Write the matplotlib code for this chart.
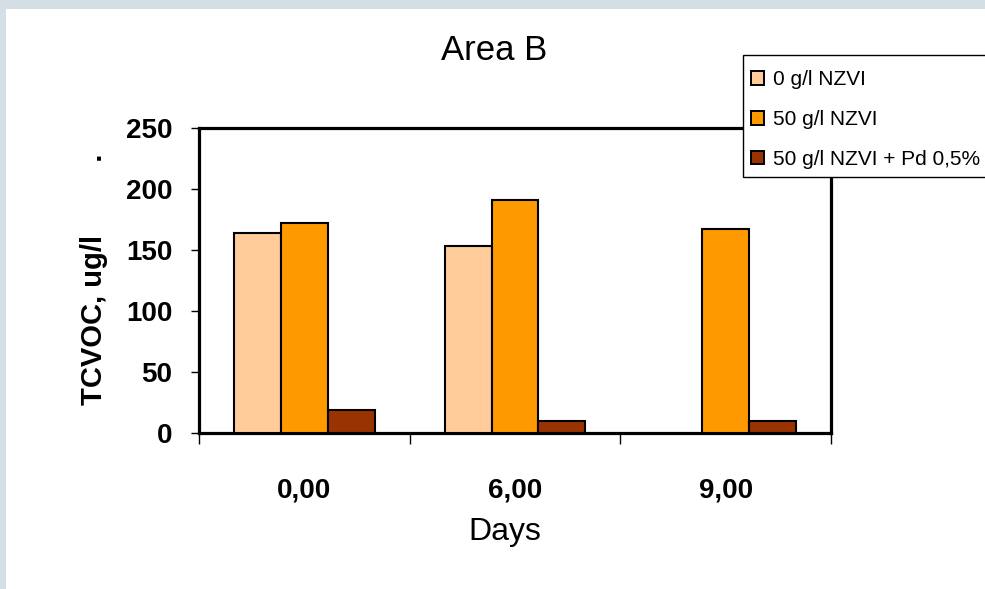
import matplotlib
matplotlib.use("Agg")
import matplotlib.pyplot as plt
import matplotlib.patches as mpatches
import numpy as np

plt.rcParams['font.family'] = ['Liberation Sans', 'DejaVu Sans']

# --- data ---
days = ['0,00', '6,00', '9,00']
series = ['0 g/l NZVI', '50 g/l NZVI', '50 g/l NZVI + Pd 0,5%']
no_nzvi = [164, 153, 0]
nzvi_50 = [172, 191, 167]
nzvi_pd = [19, 10, 10]
colors = ['#FFCC99', '#FF9900', '#993300']

fig = plt.figure(figsize=(9.85, 5.89), dpi=100, facecolor='#d3dfe5')
# white panel over the grey frame
fig.patches.append(mpatches.Rectangle((6/985, 0), 1, (589-9)/589, transform=fig.transFigure,
                                      facecolor='white', edgecolor='none', zorder=-5))

ax = fig.add_axes([199/985, 1-433/589, 632/985, 305/589])
ax.set_facecolor('white')

x = np.arange(len(days))
w = 0.223
handles = []
for i, (vals, lab) in enumerate(zip([no_nzvi, nzvi_50, nzvi_pd], series)):
    vals = np.array(vals, dtype=float)
    m = vals > 0
    ax.bar(x[m] + (i-1)*w, vals[m], width=w, color=colors[i], edgecolor='black',
           linewidth=1.5, zorder=3)
    handles.append(mpatches.Patch(facecolor=colors[i], edgecolor='black', linewidth=1.4, label=lab))

ax.set_xlim(-0.5, 2.5)
ax.set_ylim(0, 250)
ax.set_yticks(np.arange(0, 251, 50))
ax.set_xticks(x)
ax.set_xticklabels(days, fontsize=20, fontweight='bold')
ax.set_xticks([-0.5, 0.5, 1.5, 2.5], minor=True)
ax.tick_params(axis='x', which='major', length=0, pad=32)
ax.tick_params(axis='x', which='minor', length=8, width=1, direction='out')
ax.tick_params(axis='y', length=6, width=1, direction='out', pad=13, labelsize=20)
for t in ax.get_yticklabels():
    t.set_fontweight('bold')
for s in ax.spines.values():
    s.set_linewidth(2.3)
    s.set_color('black')

ax.set_ylabel('TCVOC, ug/l' + ' ' * 9 + '.', fontsize=21, fontweight='bold')
ax.yaxis.set_label_coords(-0.144, 0.505)
ax.set_xlabel('Days', fontsize=23)
ax.xaxis.set_label_coords(0.484, -0.277)

fig.text(494/985, 1-50/589, 'Area B', fontsize=25, ha='center', va='center')

# legend box runs off the right edge of the picture
fig.patches.append(mpatches.Rectangle((743/985, 1-177/589), 0.3, 122/589, transform=fig.transFigure,
                                      facecolor='white', edgecolor='black', linewidth=1, zorder=4))
leg = fig.legend(handles=handles, loc='upper left', bbox_to_anchor=(743/985, 1-62/589),
                 fontsize=15, frameon=False, borderaxespad=0,
                 handlelength=0.62, handleheight=0.62, handletextpad=0.4,
                 labelspacing=1.0, borderpad=0.4)
leg.set_zorder(5)

fig.savefig('out.png', dpi=100, facecolor=fig.get_facecolor())
